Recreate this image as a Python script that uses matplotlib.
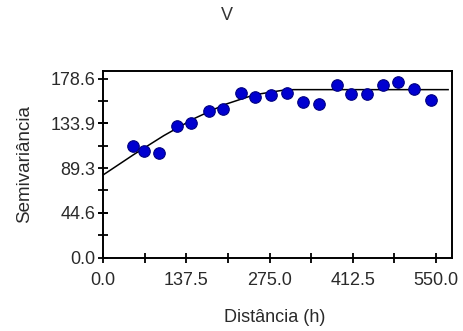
import matplotlib
matplotlib.use("Agg")
import matplotlib.pyplot as plt
from matplotlib.ticker import MultipleLocator, FixedLocator

plt.rcParams['font.family'] = ['Liberation Sans', 'DejaVu Sans']

# Experimental semivariogram points
lag_h = [49.5, 67, 92.9, 122.1, 145.7, 175.4, 198, 227.7, 251.3, 277.7,
         303.6, 330, 357, 386.1, 409.2, 435.6, 462, 487.8, 514.2, 541.7]
semivar = [111.5, 105.8, 104.2, 130.8, 134.2, 146.5, 148.5, 164.2, 160.2, 161.8,
           164.2, 155.2, 153.2, 171.8, 163.5, 163.5, 171.8, 175.2, 168.2, 157.5]

# Fitted model curve (vertices)
model_h = [0, 50, 100, 150, 200, 250, 300, 315, 570]
model_g = [82.5, 102.6, 121.6, 138.6, 152.5, 162.4, 167.2, 167.5, 167.5]

x_ticks = [0.0, 137.5, 275.0, 412.5, 550.0]
y_ticks = [0.0, 44.6, 89.3, 133.9, 178.6]

fig = plt.figure(figsize=(4.64, 3.31), dpi=100)
ax = fig.add_axes([0.2226, 0.222, 0.751, 0.5626])

ax.plot(model_h, model_g, color='black', lw=1.1, zorder=2)
ax.plot(lag_h, semivar, 'o', ms=8.3, color='#0000d0', mec='#000080', mew=0.8, zorder=3)

ax.set_xlim(0, 576)
ax.set_ylim(0, 185.8)
ax.xaxis.set_major_locator(FixedLocator(x_ticks))
ax.yaxis.set_major_locator(FixedLocator(y_ticks))
ax.xaxis.set_minor_locator(MultipleLocator(68.75))
ax.yaxis.set_minor_locator(MultipleLocator(22.325))
ax.set_xticklabels([f"{v:.1f}" for v in x_ticks])
ax.set_yticklabels([f"{v:.1f}" for v in y_ticks])
ax.tick_params(which='both', direction='inout', length=6.5, width=1.3, colors='black',
               labelsize=13, labelcolor='#2a2a2a')
ax.tick_params(axis='x', pad=7.0)
ax.tick_params(axis='y', pad=2.2)
for s in ax.spines.values():
    s.set_linewidth(1.4)
    s.set_color('black')

fig.text(227 / 464, 1 - 15 / 331, 'V', ha='center', va='center', fontsize=13, color='#333333')
fig.text(275 / 464, 1 - 318 / 331, 'Distância (h)', ha='center', va='center', fontsize=13, color='#2a2a2a')
fig.text(25 / 464, 1 - 164 / 331, 'Semivariância', ha='center', va='center', rotation=90,
         fontsize=13.5, color='#2a2a2a')

fig.savefig('out.png', dpi=100)
